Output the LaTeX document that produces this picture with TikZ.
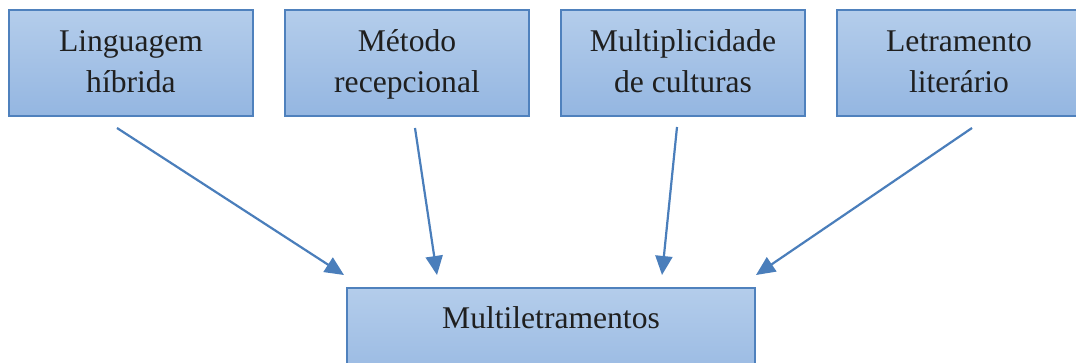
\documentclass[tikz,border=0pt]{standalone}
\usepackage{fontspec}
\setmainfont{Liberation Serif}
\usetikzlibrary{arrows.meta}
\definecolor{boxtop}{HTML}{B4CDEB}
\definecolor{boxbot}{HTML}{94B6E1}
\definecolor{boxline}{HTML}{4F81BD}
\definecolor{arrowc}{HTML}{4A7EBB}
\definecolor{txtc}{HTML}{1F1F1F}
\begin{document}
\begin{tikzpicture}[x=1pt,y=-1pt,
  boxnode/.style={draw=boxline, line width=1.3pt, top color=boxtop, bottom color=boxbot,
    minimum width=244pt, minimum height=106pt, inner sep=0pt, outer sep=0pt},
  txt/.style={anchor=base, inner sep=0pt, text=txtc, font=\fontsize{31.6}{41}\selectfont},
  conn/.style={draw=arrowc, line width=2.2pt, -{Triangle[length=19pt,width=17pt]}}]
\useasboundingbox (0,0) rectangle (1076,363);
\node[boxnode] (b1) at (131,63) {};
\node[boxnode] (b2) at (407,63) {};
\node[boxnode] (b3) at (683,63) {};
\node[boxnode] (b4) at (959,63) {};
\node[boxnode, minimum width=408pt] (m) at (551,341) {};
\node[txt] (t1a) at (131,52) {Linguagem};
\node[txt] (t1b) at (131,93) {híbrida};
\node[txt] (t2a) at (407,52) {Método};
\node[txt] (t2b) at (407,93) {recepcional};
\node[txt] (t3a) at (683,52) {Multiplicidade};
\node[txt] (t3b) at (683,93) {de culturas};
\node[txt] (t4a) at (959,52) {Letramento};
\node[txt] (t4b) at (959,93) {literário};
\node[txt] (tm) at (551,328) {Multiletramentos};
\coordinate (s1) at (117,128);
\coordinate (e1) at (344,275);
\coordinate (s2) at (415,128);
\coordinate (e2) at (437,275);
\coordinate (s3) at (677,127);
\coordinate (e3) at (662,275);
\coordinate (s4) at (972,128);
\coordinate (e4) at (756,275);
\draw[conn] (s1) -- (e1);
\draw[conn] (s2) -- (e2);
\draw[conn] (s3) -- (e3);
\draw[conn] (s4) -- (e4);
\end{tikzpicture}
\end{document}
